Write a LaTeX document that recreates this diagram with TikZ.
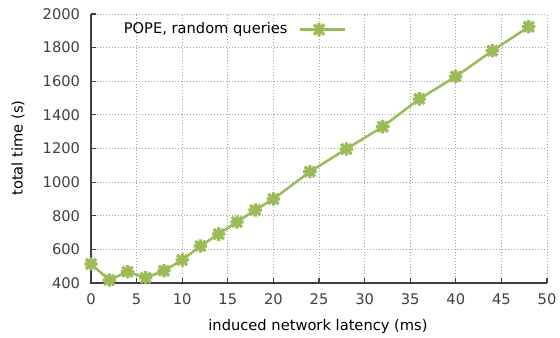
\documentclass[tikz,border=0pt]{standalone}
\usepackage{fontspec}
\setmainfont{DejaVu Sans}
\definecolor{linegreen}{HTML}{9BBB59}
\definecolor{ticktext}{HTML}{404040}
\definecolor{gridgray}{HTML}{A0A0A0}
\begin{document}
\begin{tikzpicture}[
  every node/.style={font=\fontsize{11pt}{13pt}\selectfont},
  ticklabel/.style={text=ticktext, inner sep=0pt},
  gridline/.style={gridgray, line width=0.6pt, dash pattern=on 0.75pt off 1.5pt},
  axisline/.style={ticktext, line width=0.9pt},
  dataline/.style={linegreen, line width=1.9pt, line join=round},
  pics/starmark/.style={code={
    \draw[linegreen, line width=2.4pt, line cap=butt] (-5pt,0) -- (5pt,0) (0,-5pt) -- (0,5pt)
      (-3.8pt,-3.8pt) -- (3.8pt,3.8pt) (-3.8pt,3.8pt) -- (3.8pt,-3.8pt);}}
]
\useasboundingbox (0,0) rectangle (420pt,-252.75pt);
\begin{scope}[xshift=68.25pt, yshift=-262.69pt, x=6.84pt, y=0.126094pt]
  % grid
  \foreach \gx in {5,10,...,50} \draw[gridline] (\gx,400) -- (\gx,2000);
  \foreach \gy in {600,800,...,2000} \draw[gridline] (0,\gy) -- (50,\gy);
  % axes
  \draw[axisline] (0,2000) -- (0,400) -- (50,400);
  \foreach \gx in {5,10,...,50} \draw[axisline] (\gx,400) -- ++(0,3.6pt);
  \foreach \gy in {600,800,...,2000} \draw[axisline] (0,\gy) -- ++(3.6pt,0);
  \foreach \gx in {0,5,...,50} \node[ticklabel, anchor=north] (xl\gx) at ([yshift=-8pt]\gx,400) {\gx};
  \foreach \gy in {400,600,...,2000} \node[ticklabel, anchor=east] (yl\gy) at ([xshift=-8pt]0,\gy) {\gy};
  % data
  \draw[dataline] (0,513) -- (2,418) -- (4,467) -- (6,431) -- (8,473) -- (10,537) -- (12,620) -- (14,691)
    -- (16,763) -- (18,834) -- (20,900) -- (24,1062) -- (28,1197) -- (32,1330) -- (36,1495) -- (40,1628)
    -- (44,1781) -- (48,1924);
  \foreach \px/\py in {0/513,2/418,4/467,6/431,8/473,10/537,12/620,14/691,16/763,18/834,20/900,24/1062,28/1197,32/1330,36/1495,40/1628,44/1781,48/1924}
    \pic at (\px,\py) {starmark};
  % legend
  \coordinate (legA) at (22.9,1907);
  \coordinate (legB) at (27.8,1907);
  \coordinate (legM) at (25.0,1907);
  \draw[dataline] (legA) -- (legB);
  \pic at (legM) {starmark};
  \node[anchor=east, inner sep=0pt] (legtext) at ([xshift=-9pt]legA) {POPE, random queries};
\end{scope}
\node[rotate=90] (ylabel) at (13.5pt,-111pt) {total time (s)};
\node (xlabel) at (238.5pt,-245pt) {induced network latency (ms)};
\end{tikzpicture}
\end{document}
